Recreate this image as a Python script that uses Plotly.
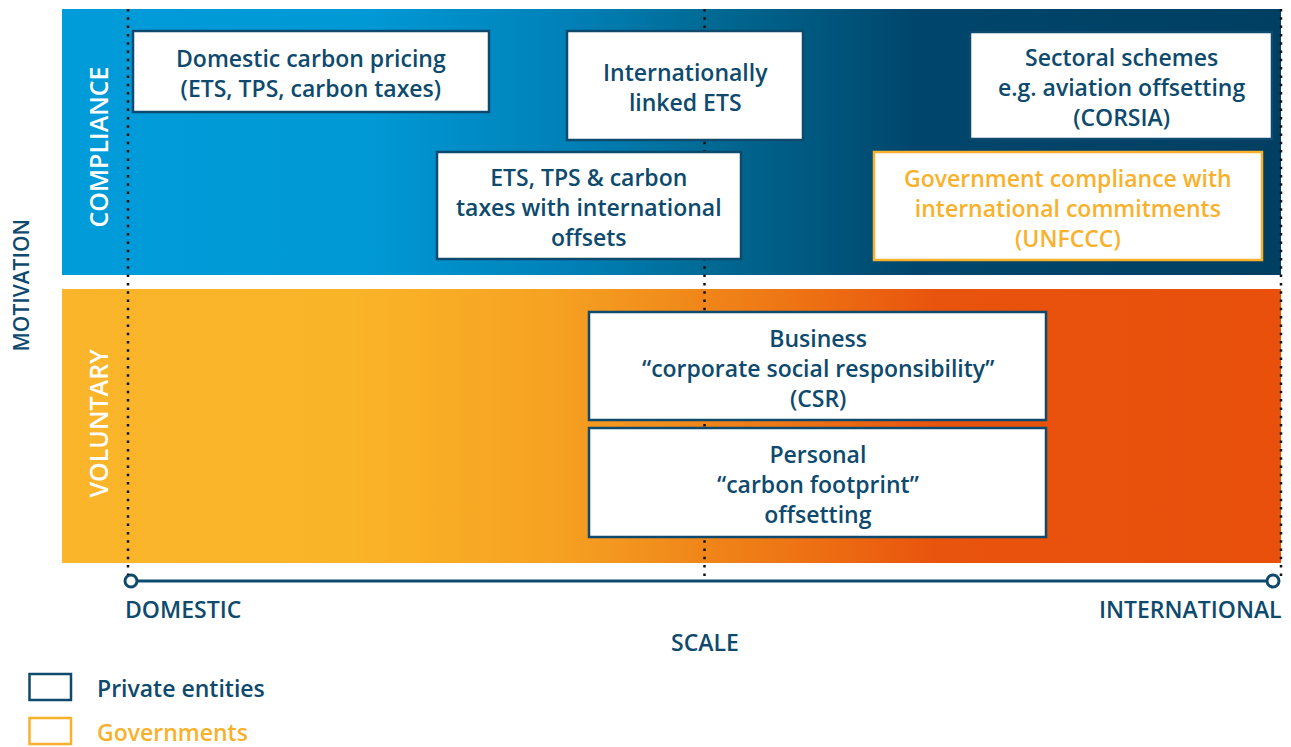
import plotly.graph_objects as go

W, H = 1291, 747

# ---- diagram content -------------------------------------------------
band_names = ["COMPLIANCE", "VOLUNTARY"]
band_top = [9, 289]
band_bottom = [275, 563]
band_left = 62
band_right = 1281
band_colorscales = [
    [[0, "#009bd9"], [0.25, "#0099d6"], [0.42, "#0080b6"], [0.55, "#00668f"],
     [0.7, "#00466c"], [1, "#003f62"]],
    [[0, "#fbb52a"], [0.24, "#fab428"], [0.4, "#f6a222"], [0.5, "#f18c1b"],
     [0.6, "#ee7414"], [0.72, "#e8530d"], [1, "#e8500c"]],
]

scale_labels = ["DOMESTIC", "INTERNATIONAL"]
scale_title = "SCALE"
motivation_title = "MOTIVATION"
guide_x = [128, 704.5, 1281]  # domestic, midpoint, international
axis_x = [131, 1273]

box_lines = [
    ["Domestic carbon pricing", "(ETS, TPS, carbon taxes)"],
    ["Internationally", "linked ETS"],
    ["ETS, TPS & carbon", "taxes with international", "offsets"],
    ["Sectoral schemes", "e.g. aviation offsetting", "(CORSIA)"],
    ["Government compliance with", "international commitments", "(UNFCCC)"],
    ["Business", "“corporate social responsibility”", "(CSR)"],
    ["Personal", "“carbon footprint”", "offsetting"],
]
box_actor = ["Private entities", "Private entities", "Private entities",
             "Private entities", "Governments", "Private entities",
             "Private entities"]
box_x0 = [133, 567, 437, 970, 874, 589, 589]
box_x1 = [489, 803, 741, 1272, 1262, 1046, 1046]
box_y0 = [31, 31, 152, 32, 152, 312, 428]
box_y1 = [112, 140, 259, 139, 260, 420, 537]

legend_items = ["Private entities", "Governments"]

# ---- styles ----------------------------------------------------------
NAVY = "#0d4a6e"
GOLD = "#f9b12c"
actor_color = {"Private entities": NAVY, "Governments": GOLD}
FONT = "Open Sans"
WEIGHT = 600

fig = go.Figure()
shapes = []
ann = []

# gradient bands
for name, t, b, cs in zip(band_names, band_top, band_bottom, band_colorscales):
    fig.add_trace(go.Scatter(
        x=[band_left, band_right, band_right, band_left, band_left],
        y=[t, t, b, b, t],
        mode="lines", line=dict(width=0), fill="toself",
        fillgradient=dict(type="horizontal", colorscale=cs),
        hoverinfo="skip", showlegend=False, name=name))

# scale axis line with open circle ends
fig.add_trace(go.Scatter(
    x=axis_x, y=[581, 581], mode="lines+markers",
    line=dict(color=NAVY, width=3),
    marker=dict(size=12, color="white", line=dict(color=NAVY, width=3)),
    hoverinfo="skip", showlegend=False))

# dotted guide lines
for gx, yb in zip(guide_x, [575, 578, 577]):
    shapes.append(dict(type="line", x0=gx, x1=gx, y0=9, y1=yb, layer="above",
                       line=dict(color="#111111", width=2.5, dash="2.5px,5.8px")))

# boxes
for lines, actor, x0, x1, y0, y1 in zip(box_lines, box_actor, box_x0, box_x1, box_y0, box_y1):
    col = actor_color[actor]
    shapes.append(dict(type="rect", x0=x0, x1=x1, y0=y0, y1=y1, layer="above",
                       fillcolor="white", line=dict(color=col, width=2.5)))
    ann.append(dict(x=(x0 + x1) / 2, y=(y0 + y1) / 2 + 1.5,
                    text="<br>".join(lines), showarrow=False,
                    xanchor="center", yanchor="middle", align="center",
                    font=dict(family=FONT, size=23, color=col, weight=WEIGHT)))

# band labels (rotated)
for name, cy in zip(band_names, [147.5, 423.5]):
    ann.append(dict(x=97, y=cy, text=name, textangle=-90, showarrow=False,
                    xanchor="center", yanchor="middle",
                    font=dict(family=FONT, size=25, color="white", weight=WEIGHT)))

ann.append(dict(x=20.5, y=286, text=motivation_title, textangle=-90, showarrow=False,
                xanchor="center", yanchor="middle",
                font=dict(family=FONT, size=21, color=NAVY, weight=WEIGHT)))

# scale labels
ann.append(dict(x=123, y=609, text=scale_labels[0], showarrow=False, xanchor="left",
                yanchor="middle", font=dict(family=FONT, size=23, color=NAVY, weight=WEIGHT)))
ann.append(dict(x=1284, y=609, text=scale_labels[1], showarrow=False, xanchor="right",
                yanchor="middle", font=dict(family=FONT, size=23, color=NAVY, weight=WEIGHT)))
ann.append(dict(x=guide_x[1], y=642, text=scale_title, showarrow=False, xanchor="center",
                yanchor="middle", font=dict(family=FONT, size=23, color=NAVY, weight=WEIGHT)))

# legend
for item, cy in zip(legend_items, [687, 731]):
    col = actor_color[item]
    shapes.append(dict(type="rect", x0=29.5, x1=71, y0=cy - 13, y1=cy + 13,
                       fillcolor="white", line=dict(color=col, width=2.5)))
    ann.append(dict(x=95, y=cy + 1, text=item, showarrow=False, xanchor="left",
                    yanchor="middle", font=dict(family=FONT, size=23, color=col, weight=WEIGHT)))

fig.update_layout(
    width=W, height=H,
    margin=dict(l=0, r=0, t=0, b=0),
    paper_bgcolor="white", plot_bgcolor="white", showlegend=False,
    hovermode=False,
    xaxis=dict(range=[0, W], visible=False, fixedrange=True),
    yaxis=dict(range=[H, 0], visible=False, fixedrange=True),
    shapes=shapes, annotations=ann,
)

# remove the browser's default 8px body margin so the figure fills the window
fig.write_html("out.html", config={"displayModeBar": False},
               post_script="document.body.style.margin='0px';")
